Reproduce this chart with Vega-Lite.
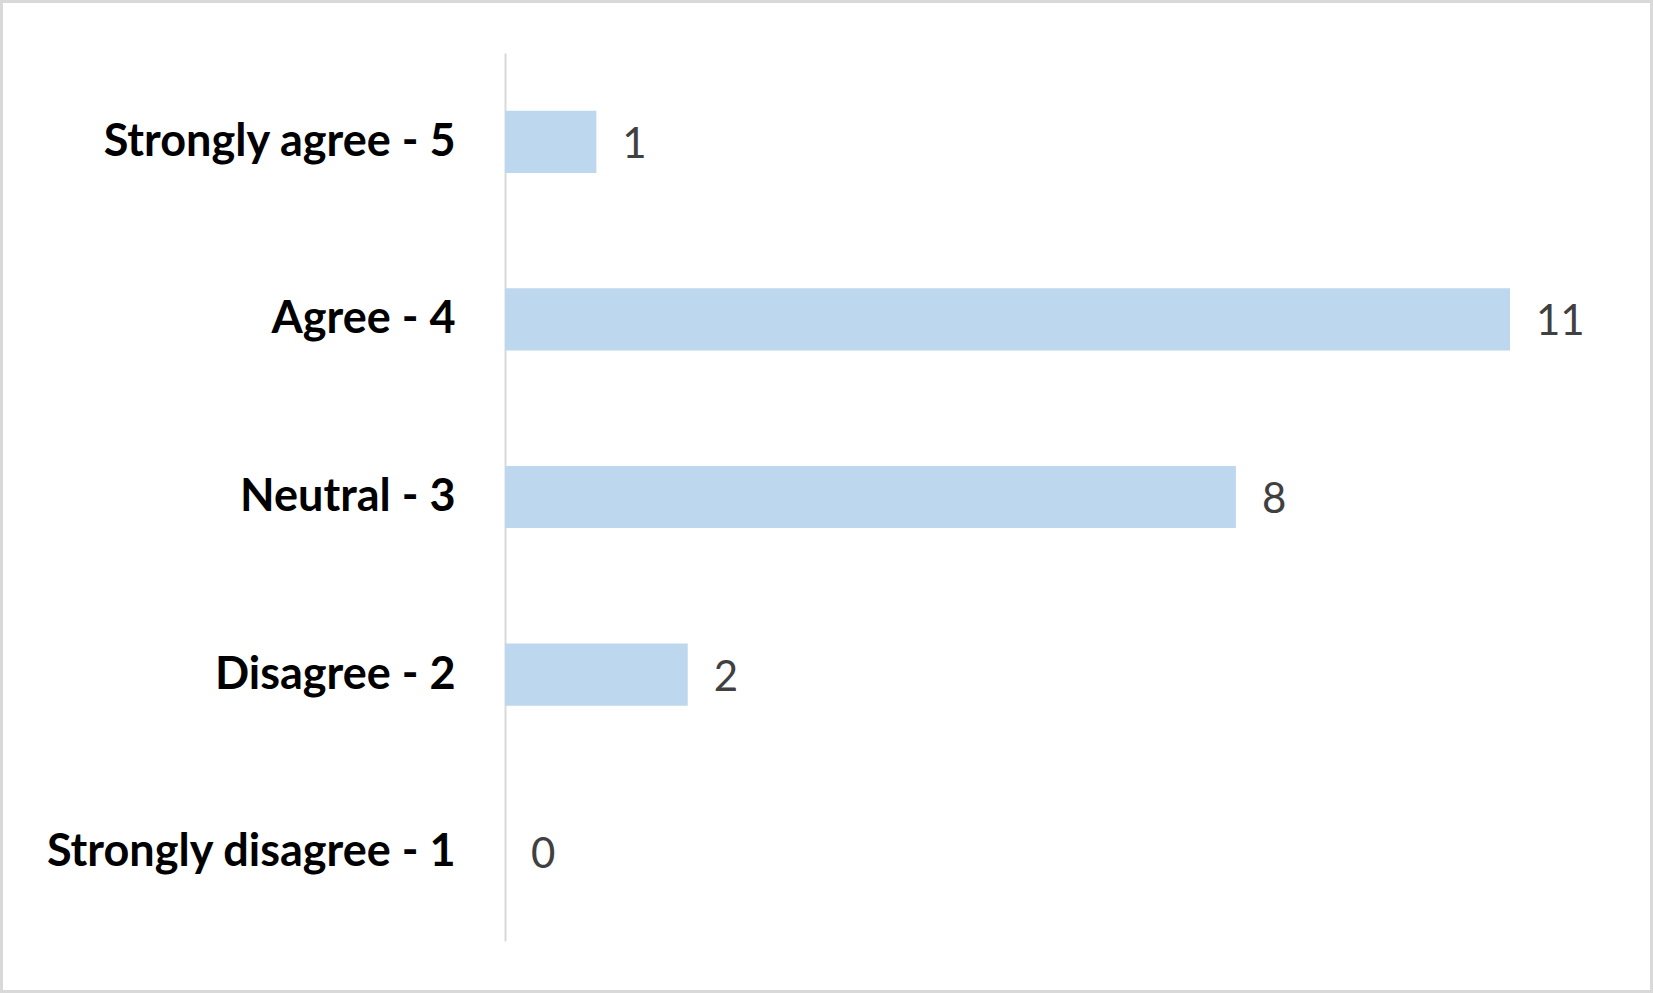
{
  "$schema": "https://vega.github.io/schema/vega-lite/v6.json",
  "width": 1653,
  "height": 993,
  "autosize": {"type": "none"},
  "padding": 0,
  "background": "white",
  "config": {
    "view": {"stroke": "#d9d9d9", "strokeWidth": 6}
  },
  "data": {
    "values": [
      {"category": "Strongly agree - 5", "count": 1},
      {"category": "Agree - 4", "count": 11},
      {"category": "Neutral - 3", "count": 8},
      {"category": "Disagree - 2", "count": 2},
      {"category": "Strongly disagree - 1", "count": 0}
    ]
  },
  "encoding": {
    "y": {
      "field": "category",
      "type": "nominal",
      "sort": null,
      "scale": {"range": [53, 941], "paddingInner": 0.65, "paddingOuter": 0.325},
      "axis": {
        "title": null,
        "offset": -505,
        "ticks": false,
        "domainColor": "#d9d9d9",
        "domainWidth": 2,
        "labelFont": "Lato",
        "labelFontWeight": "bold",
        "labelFontSize": 45,
        "labelColor": "#000000",
        "labelPadding": 50,
        "labelLimit": 600
      }
    },
    "x": {
      "field": "count",
      "type": "quantitative",
      "scale": {"domain": [0, 11], "range": [505, 1510], "nice": false, "zero": true},
      "axis": null
    }
  },
  "layer": [
    {"mark": {"type": "bar", "color": "#bdd7ee"}},
    {
      "mark": {"type": "text", "align": "left", "baseline": "middle", "dx": 26, "dy": 3, "font": "Lato", "fontSize": 42, "color": "#404040"},
      "encoding": {"text": {"field": "count", "type": "quantitative"}}
    }
  ]
}
